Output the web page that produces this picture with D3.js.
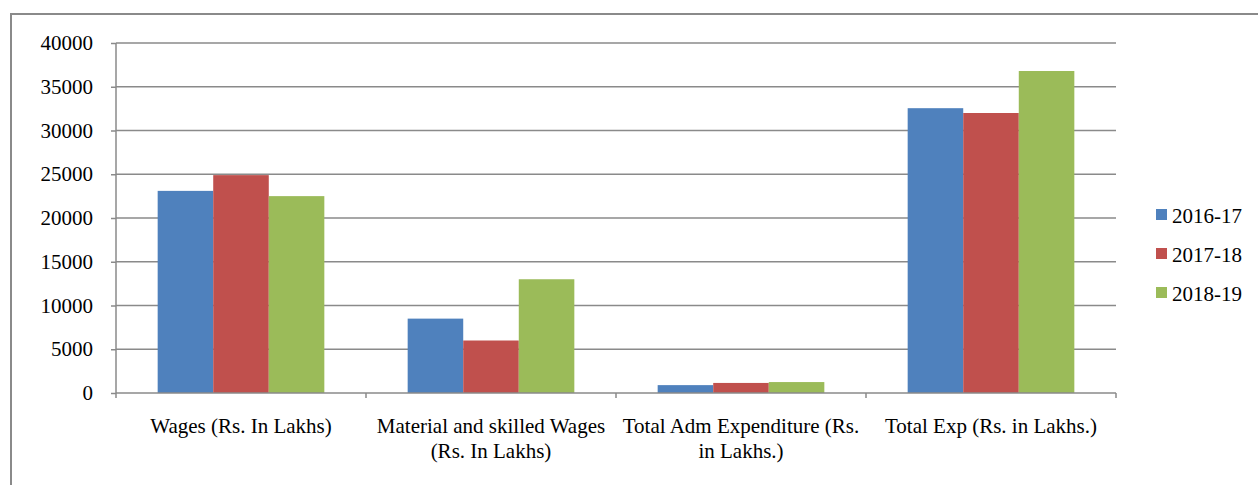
<!DOCTYPE html>
<html>
<head>
<meta charset="utf-8">
<script src="https://cdn.jsdelivr.net/npm/d3@7"></script>
<style>
  body { margin: 0; background: #fff; }
  svg text { font-family: "Liberation Serif", "Times New Roman", serif; fill: #000; }
</style>
</head>
<body>
<svg id="chart" width="1258" height="485"></svg>
<script>
// categories (each label is split into lines)
const categories = [
    ['Wages (Rs. In Lakhs)'],
    ['Material and skilled Wages', '(Rs. In Lakhs)'],
    ['Total Adm Expenditure (Rs.', 'in Lakhs.)'],
    ['Total Exp (Rs. in Lakhs.)']
];
const seriesNames = ['2016-17', '2017-18', '2018-19'];
const values2016 = [23100, 8500, 900, 32550];
const values2017 = [24900, 6000, 1150, 32000];
const values2018 = [22500, 13000, 1250, 36800];
const yTicks = [0, 5000, 10000, 15000, 20000, 25000, 30000, 35000, 40000];
const colors = ['#4F81BD', '#C0504D', '#9BBB59'];

const series = [values2016, values2017, values2018];

const svg = d3.select('#chart');
const margin = { left: 116, right: 142, top: 43, bottom: 92 };
const width = 1258, height = 485;
const fontSize = '21px';

// outer chart frame
svg.append('path')
    .attr('d', 'M11,485 L11,14 L1258,14')
    .attr('fill', 'none')
    .attr('stroke', '#8a8a8a')
    .attr('stroke-width', 2);

const x = d3.scaleBand()
    .domain(d3.range(categories.length))
    .range([margin.left, width - margin.right]);

// gap width 150% -> 0.75 bar width on each side of the group
const x1 = d3.scaleBand()
    .domain(d3.range(seriesNames.length))
    .range([0, x.bandwidth()])
    .paddingOuter(0.75)
    .paddingInner(0);

const y = d3.scaleLinear()
    .domain([0, 40000])
    .range([height - margin.bottom, margin.top]);

// gridlines
svg.append('g')
    .selectAll('line')
    .data(yTicks.filter(d => d > 0))
    .join('line')
    .attr('x1', margin.left)
    .attr('x2', width - margin.right)
    .attr('y1', d => y(d))
    .attr('y2', d => y(d))
    .attr('stroke', '#8a8a8a')
    .attr('stroke-width', 1.5);

// bars
const groups = svg.append('g')
    .selectAll('g')
    .data(categories.map((c, i) => i))
    .join('g')
    .attr('transform', i => `translate(${x(i)},0)`);

groups.selectAll('rect')
    .data(i => series.map((s, k) => ({ k, v: s[i] })))
    .join('rect')
    .attr('x', d => x1(d.k))
    .attr('width', x1.bandwidth())
    .attr('y', d => y(d.v))
    .attr('height', d => y(0) - y(d.v))
    .attr('fill', d => colors[d.k]);

// y axis
const yAxis = svg.append('g')
    .attr('transform', `translate(${margin.left},0)`)
    .call(d3.axisLeft(y).tickValues(yTicks).tickSize(5).tickPadding(18).tickFormat(d3.format('d')));
yAxis.selectAll('line, path').attr('stroke', '#8a8a8a').attr('stroke-width', 1.5);
yAxis.select('.domain').attr('d', `M0,${y(40000)}V${y(0)}`);
yAxis.selectAll('text').style('font-size', fontSize).style('font-family', '"Liberation Serif", serif');

// x axis
const xAxisG = svg.append('g')
    .attr('transform', `translate(0,${y(0)})`);
xAxisG.append('line')
    .attr('x1', margin.left).attr('x2', width - margin.right)
    .attr('stroke', '#8a8a8a').attr('stroke-width', 1.5);
xAxisG.selectAll('line.tick')
    .data(d3.range(categories.length + 1))
    .join('line')
    .attr('class', 'tick')
    .attr('x1', i => i < categories.length ? x(i) : x(i - 1) + x.bandwidth())
    .attr('x2', i => i < categories.length ? x(i) : x(i - 1) + x.bandwidth())
    .attr('y1', 0).attr('y2', 5)
    .attr('stroke', '#8a8a8a').attr('stroke-width', 1.5);

xAxisG.selectAll('text.cat')
    .data(categories)
    .join('text')
    .attr('class', 'cat')
    .attr('x', (d, i) => x(i) + x.bandwidth() / 2)
    .attr('y', 40)
    .attr('text-anchor', 'middle')
    .style('font-size', fontSize)
    .selectAll('tspan')
    .data(d => d)
    .join('tspan')
    .attr('x', function () { return this.parentNode.getAttribute('x'); })
    .attr('dy', (d, i) => i === 0 ? 0 : 25)
    .text(d => d);

// legend
const legend = svg.append('g')
    .attr('transform', 'translate(1156,215)');
const items = legend.selectAll('g')
    .data(seriesNames)
    .join('g')
    .attr('transform', (d, i) => `translate(0,${i * 39})`);
items.append('rect')
    .attr('x', 0).attr('y', -6)
    .attr('width', 11).attr('height', 11)
    .attr('fill', (d, i) => colors[i]);
items.append('text')
    .attr('x', 16).attr('y', 8)
    .style('font-size', fontSize)
    .text(d => d);
</script>
</body>
</html>
